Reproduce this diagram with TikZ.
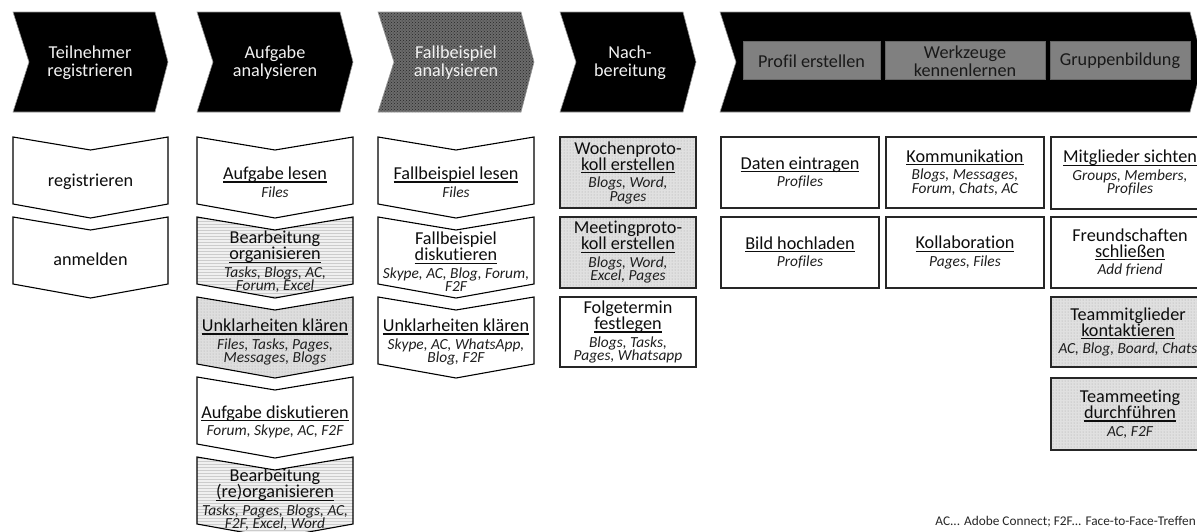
\documentclass[tikz,border=0pt]{standalone}
\usepackage{fontspec}
\setmainfont{Carlito}[Ligatures=NoCommon]
\usetikzlibrary{patterns}
\definecolor{txt}{HTML}{0D0D0D}
\definecolor{tooltxtc}{HTML}{1E1E1E}
\newcommand\ulx[1]{\setbox0\hbox{#1}\rlap{\rule[-3pt]{\wd0}{1.1pt}}\box0}
\newcommand\tooltxt[1]{{\fontsize{15.4}{12.5}\selectfont\itshape\color{tooltxtc}#1}}
\newcommand\tightls{\lineskiplimit-100pt\relax}
\newcommand\bigfnt{\fontsize{18.2}{12.5}\selectfont\tightls}
\newcommand\chevtop[3]{\path[#3] (#1,12) -- ({#2-13},12) -- (#2,62) -- ({#2-13},112) -- (#1,112) -- ({#1+16},62) -- cycle;}
\newcommand\dbox[4]{\path[#4] (#1,#3) -- ({(#1+#2)/2},{#3+13}) -- (#2,#3) -- (#2,{#3+67}) -- ({(#1+#2)/2},{#3+81}) -- (#1,{#3+67}) -- cycle;}
\tikzset{
  topchev/.style={fill=black, draw=black!40, line width=0.6pt},
  topchevgrey/.style={preaction={fill=black!58}, pattern=crosshatch dots, pattern color=black!85, draw=black!40, line width=0.6pt},
  greybox/.style={fill=black!50, draw=black!60, line width=0.6pt},
  downbox/.style={draw=black, line width=1.1pt, fill=white},
  downlines/.style={draw=black, line width=1.1pt, preaction={fill=black!6}, pattern=horizontal lines, pattern color=black!20},
  downdots/.style={draw=black, line width=1.1pt, preaction={fill=black!13}, pattern=dots, pattern color=black!35},
  rectbox/.style={draw=black!85, line width=1.7pt, fill=white},
  rectdots/.style={draw=black!85, line width=1.7pt, preaction={fill=black!12}, pattern=dots, pattern color=black!35},
  ctext/.style={align=center, text=white!95!black, inner sep=0pt, font=\bigfnt},
  gtext/.style={align=center, text=black!90, inner sep=0pt, font=\bigfnt},
  ttl/.style={align=center, text=txt, inner sep=0pt, font=\bigfnt},
}
\begin{document}
\begin{tikzpicture}[x=1pt,y=-1pt]
\useasboundingbox (0,0) rectangle (1197,531);
\clip (0,0) rectangle (1197,531);
\fill[white] (0,0) rectangle (1197,531);
% top chevrons
\chevtop{13}{168}{topchev}
\chevtop{197}{353}{topchev}
\chevtop{378}{534}{topchevgrey}
\chevtop{560}{696}{topchev}
\chevtop{720}{1203}{topchev}
\path[greybox] (743,41) rectangle (880,79);
\path[greybox] (885,41) rectangle (1045,79);
\path[greybox] (1050,41) rectangle (1190,79);
\node[ctext] (c1) at (90,63) {Teilnehmer\\[5.5pt]registrieren};
\node[ctext] (c2) at (275,63) {Aufgabe\\[5.5pt]analysieren};
\node[ctext] (c3) at (456,63) {Fallbeispiel\\[5.5pt]analysieren};
\node[ctext] (c4) at (630,63) {Nach-\\[5.5pt]bereitung};
\node[gtext] (g1) at (811.5,61) {Profil erstellen};
\node[gtext] (g2) at (965,61) {Werkzeuge\\[6pt]kennenlernen};
\node[gtext] (g3) at (1120,61) {Gruppenbildung};
% column 1
\dbox{13}{168}{137}{downbox}
\dbox{13}{168}{217}{downbox}
\node[ttl] (r1) at (90.5,182) {registrieren};
\node[ttl] (r2) at (90.5,259) {anmelden};
% column 2
\dbox{197}{353}{137}{downbox}
\dbox{197}{353}{217}{downlines}
\dbox{197}{353}{297}{downdots}
\dbox{197}{353}{377}{downbox}
\dbox{197}{353}{457}{downlines}
\node[ttl] (a1) at (275,182) {\ulx{Aufgabe lesen}\\[5pt]\tooltxt{Files}};
\node[ttl] (a2) at (275,262) {Bearbeitung\\[3.5pt]\ulx{organisieren}\\[5pt]\tooltxt{Tasks, Blogs, AC,}\\[1pt]\tooltxt{Forum, Excel}};
\node[ttl] (a3) at (275,342) {\ulx{Unklarheiten klären}\\[5pt]\tooltxt{Files, Tasks, Pages,}\\[1pt]\tooltxt{Messages, Blogs}};
\node[ttl] (a4) at (275,422) {\ulx{Aufgabe diskutieren}\\[5pt]\tooltxt{Forum, Skype, AC, F2F}};
\node[ttl] (a5) at (275,500) {Bearbeitung\\[3.5pt]\ulx{(re)organisieren}\\[5pt]\tooltxt{Tasks, Pages, Blogs, AC,}\\[1pt]\tooltxt{F2F, Excel, Word}};
% column 3
\dbox{378}{534}{137}{downbox}
\dbox{378}{534}{217}{downbox}
\dbox{378}{534}{297}{downbox}
\node[ttl] (f1) at (456,182) {\ulx{Fallbeispiel lesen}\\[5pt]\tooltxt{Files}};
\node[ttl] (f2) at (456,262) {Fallbeispiel\\[3.5pt]\ulx{diskutieren}\\[5pt]\tooltxt{Skype, AC, Blog, Forum,}\\[1pt]\tooltxt{F2F}};
\node[ttl] (f3) at (456,342) {\ulx{Unklarheiten klären}\\[5pt]\tooltxt{Skype, AC, WhatsApp,}\\[1pt]\tooltxt{Blog, F2F}};
% column 4
\path[rectdots] (560,137) rectangle (696,208);
\path[rectdots] (560,217) rectangle (696,288);
\path[rectbox] (560,297) rectangle (696,367);
\node[ttl] (n1) at (628,172.5) {Wochenproto-\\[3.5pt]\ulx{koll erstellen}\\[5pt]\tooltxt{Blogs, Word,}\\[1pt]\tooltxt{Pages}};
\node[ttl] (n2) at (628,252.5) {Meetingproto-\\[3.5pt]\ulx{koll erstellen}\\[5pt]\tooltxt{Blogs, Word,}\\[1pt]\tooltxt{Excel, Pages}};
\node[ttl] (n3) at (628,332) {Folgetermin\\[3.5pt]\ulx{festlegen}\\[5pt]\tooltxt{Blogs, Tasks,}\\[1pt]\tooltxt{Pages, Whatsapp}};
% column 5
\path[rectbox] (721,137) rectangle (879,208);
\path[rectbox] (721,217) rectangle (879,288);
\node[ttl] (p1) at (800,172.5) {\ulx{Daten eintragen}\\[5pt]\tooltxt{Profiles}};
\node[ttl] (p2) at (800,252.5) {\ulx{Bild hochladen}\\[5pt]\tooltxt{Profiles}};
% column 6
\path[rectbox] (886,137) rectangle (1044,208);
\path[rectbox] (886,217) rectangle (1044,288);
\node[ttl] (w1) at (965,172.5) {\ulx{Kommunikation}\\[5pt]\tooltxt{Blogs, Messages,}\\[1pt]\tooltxt{Forum, Chats, AC}};
\node[ttl] (w2) at (965,252.5) {\ulx{Kollaboration}\\[5pt]\tooltxt{Pages, Files}};
% column 7
\path[rectbox] (1051,137) rectangle (1209,209);
\path[rectbox] (1051,217) rectangle (1209,288);
\path[rectdots] (1051,297) rectangle (1209,367);
\path[rectdots] (1051,378) rectangle (1209,450);
\node[ttl] (m1) at (1130,173) {\ulx{Mitglieder sichten}\\[5pt]\tooltxt{Groups, Members,}\\[1pt]\tooltxt{Profiles}};
\node[ttl] (m2) at (1130,252.5) {Freundschaften\\[3.5pt]\ulx{schließen}\\[5pt]\tooltxt{Add friend}};
\node[ttl] (m3) at (1128,332) {Teammitglieder\\[3.5pt]\ulx{kontaktieren}\\[5pt]\tooltxt{AC, Blog, Board, Chats}};
\node[ttl] (m4) at (1130,414) {Teammeeting\\[3.5pt]\ulx{durchführen}\\[5pt]\tooltxt{AC, F2F}};
% footnote
\node[anchor=east, inner sep=0pt, text=black!85, font=\fontsize{13.3}{15}\selectfont] (fn) at (1196,522) {AC... Adobe Connect; F2F... Face-to-Face-Treffen};
\end{tikzpicture}
\end{document}
